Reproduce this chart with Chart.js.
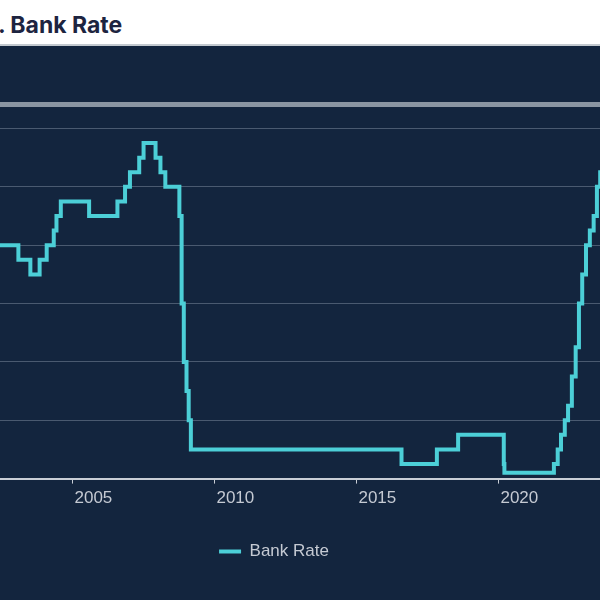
<!DOCTYPE html>
<html>
<head>
<meta charset="utf-8">
<script src="https://cdn.jsdelivr.net/npm/chart.js@4"></script>
<style>
  html, body { margin: 0; padding: 0; }
  body { width: 600px; height: 600px; overflow: hidden; background: #13253e; position: relative; }
  .header { position: absolute; left: 0; top: 0; width: 600px; height: 44px; background: #fff; border-bottom: 2px solid #c3c9cf; overflow: hidden; }
  .header h1 { position: absolute; left: -12px; top: 11px; margin: 0; font: 700 23px Inter, sans-serif; color: #1d2440; white-space: nowrap; }
  .chart-box { position: absolute; left: -100px; top: 46px; width: 748px; height: 554px; }
</style>
</head>
<body>
<div class="header"><h1>1. Bank Rate</h1></div>
<div class="chart-box"><canvas id="rateChart" width="748" height="554"></canvas></div>
<script>
// Bank Rate decisions: date of change and the new rate (%)
const changeDates = [
  '1999-01-07', '1999-02-04', '1999-04-08', '1999-06-10', '1999-09-08', '1999-11-04',
  '2000-01-13', '2000-02-10', '2001-02-08', '2001-04-05', '2001-05-10', '2001-08-02',
  '2001-09-18', '2001-10-04', '2001-11-08', '2003-02-06', '2003-07-10', '2003-11-06',
  '2004-02-05', '2004-05-06', '2004-06-10', '2004-08-05', '2005-08-04', '2006-08-03',
  '2006-11-09', '2007-01-11', '2007-05-10', '2007-07-05', '2007-12-06', '2008-02-07',
  '2008-04-10', '2008-10-08', '2008-11-06', '2008-12-04', '2009-01-08', '2009-02-05',
  '2009-03-05', '2016-08-04', '2017-11-02', '2018-08-02', '2020-03-11', '2020-03-19',
  '2021-12-16', '2022-02-03', '2022-03-17', '2022-05-05', '2022-06-16', '2022-08-04',
  '2022-09-22', '2022-11-03', '2022-12-15', '2023-02-02', '2023-03-23', '2023-05-11',
  '2023-06-22', '2023-08-03', '2024-08-01', '2024-11-07', '2025-02-06', '2025-04-30'
];
const rates = [
  6.0, 5.5, 5.25, 5.0, 5.25, 5.5,
  5.75, 6.0, 5.75, 5.5, 5.25, 5.0,
  4.75, 4.5, 4.0, 3.75, 3.5, 3.75,
  4.0, 4.25, 4.5, 4.75, 4.5, 4.75,
  5.0, 5.25, 5.5, 5.75, 5.5, 5.25,
  5.0, 4.5, 3.0, 2.0, 1.5, 1.0,
  0.5, 0.25, 0.5, 0.75, 0.25, 0.1,
  0.25, 0.5, 0.75, 1.0, 1.25, 1.75,
  2.25, 3.0, 3.5, 4.0, 4.25, 4.5,
  5.0, 5.25, 5.0, 4.75, 4.5, 4.5
];
const tickYears = [2005, 2010, 2015, 2020];
const seriesName = 'Bank Rate';

const lineColor = '#4ccfd7';
const textColor = '#c5cad3';
const fontFamily = 'Arial, "Liberation Sans", sans-serif';

// date string -> fractional year for the linear x scale
function toYear(dateStr) {
  const d = new Date(dateStr + 'T00:00:00Z');
  const y = d.getUTCFullYear();
  const start = Date.UTC(y, 0, 1);
  const end = Date.UTC(y + 1, 0, 1);
  return y + (d.getTime() - start) / (end - start);
}

const points = changeDates.map((d, i) => ({ x: toYear(d), y: rates[i] }));

new Chart(document.getElementById('rateChart'), {
  type: 'line',
  data: {
    datasets: [
      {
        label: seriesName,
        data: points,
        stepped: true,
        borderColor: lineColor,
        backgroundColor: lineColor,
        borderWidth: 4,
        pointRadius: 0,
        fill: false
      }
    ]
  },
  options: {
    responsive: false,
    animation: false,
    layout: { padding: { top: 58, left: 0, right: 0, bottom: 30 } },
    scales: {
      x: {
        type: 'linear',
        min: 1998.93,
        max: 2025.27,
        afterBuildTicks: scale => {
          scale.ticks = tickYears.map(v => ({ value: v }));
        },
        ticks: {
          color: textColor,
          font: { family: fontFamily, size: 17 },
          labelOffset: 21,
          padding: 5,
          maxRotation: 0,
          autoSkip: false,
          callback: value => String(value)
        },
        grid: {
          drawOnChartArea: false,
          drawTicks: true,
          tickLength: 5,
          tickColor: '#c9ced6',
          tickWidth: 1
        },
        border: { display: true, color: '#c9ced6', width: 2 }
      },
      y: {
        min: 0,
        max: 6.42,
        ticks: { display: false, stepSize: 1 },
        grid: {
          drawTicks: false,
          color: ctx => (ctx.tick && ctx.tick.value > 6.1 ? '#8a95a2' : '#4a5a70'),
          lineWidth: ctx => (ctx.tick && ctx.tick.value > 6.1 ? 5 : 1)
        },
        border: { display: false }
      }
    },
    plugins: {
      legend: {
        position: 'bottom',
        labels: {
          color: textColor,
          font: { family: fontFamily, size: 17 },
          boxWidth: 22,
          boxHeight: 4,
          padding: 29,
          generateLabels: chart => {
            const items = Chart.defaults.plugins.legend.labels.generateLabels(chart);
            items.forEach(item => {
              item.lineWidth = 0;
              item.fillStyle = lineColor;
            });
            return items;
          }
        }
      },
      tooltip: { enabled: false }
    }
  }
});
</script>
</body>
</html>
